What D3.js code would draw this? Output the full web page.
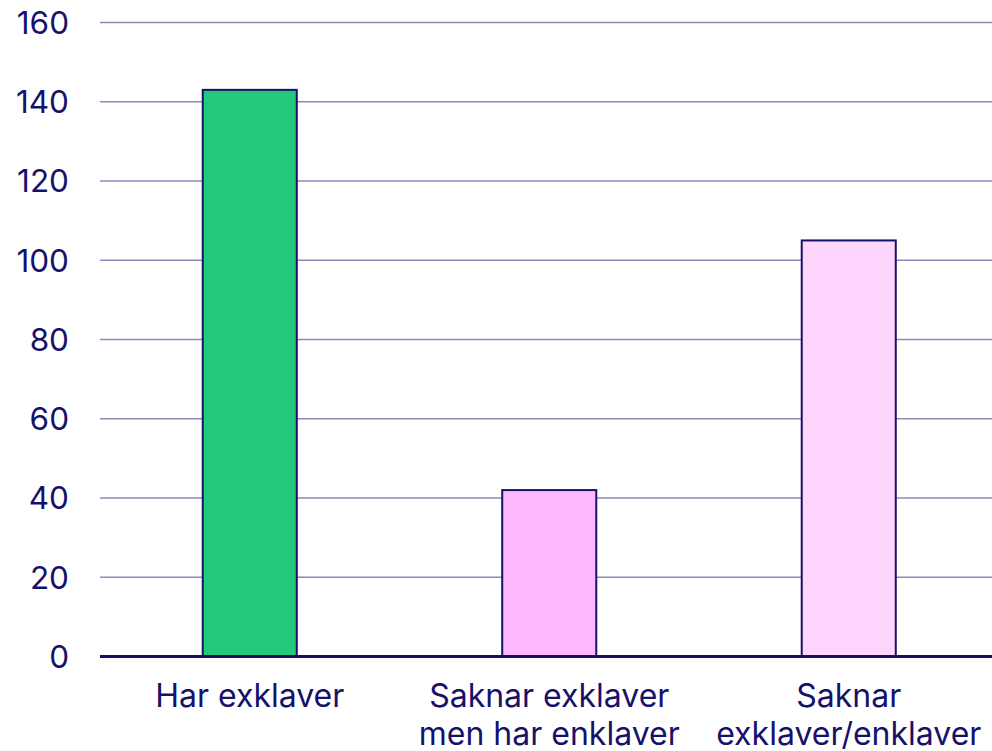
<!DOCTYPE html>
<html>
<head>
<meta charset="utf-8">
<script src="https://cdn.jsdelivr.net/npm/d3@7"></script>
<style>
  html, body { margin: 0; padding: 0; background: #fff; }
  svg text { font-family: Inter, "Noto Sans", sans-serif; fill: #16116b; }
</style>
</head>
<body>
<svg id="chart"></svg>
<script>
const categories = [
  ["Har exklaver"],
  ["Saknar exklaver", "men har enklaver"],
  ["Saknar", "exklaver/enklaver"]
];
const values = [143, 42, 105];
const barColors = ["#23c97a", "#fdb8fd", "#fdd5fd"];
const yTicks = [0, 20, 40, 60, 80, 100, 120, 140, 160];

const width = 992;
const height = 751;
const margin = { top: 22.5, right: 0, bottom: 94.5, left: 100 };

const svg = d3.select("#chart")
  .attr("width", width)
  .attr("height", height);

const x = d3.scaleBand()
  .domain(d3.range(values.length))
  .range([margin.left, margin.left + 898.5])
  .paddingInner(0.686)
  .paddingOuter(0.343);

const y = d3.scaleLinear()
  .domain([0, 160])
  .range([height - margin.bottom, margin.top]);

// gridlines
svg.append("g")
  .selectAll("line")
  .data(yTicks.filter(d => d > 0))
  .join("line")
  .attr("x1", margin.left)
  .attr("x2", width)
  .attr("y1", d => y(d))
  .attr("y2", d => y(d))
  .attr("stroke", "#8b89b9")
  .attr("stroke-width", 1.5);

// y tick labels
svg.append("g")
  .selectAll("text")
  .data(yTicks)
  .join("text")
  .attr("x", 69)
  .attr("y", d => y(d))
  .attr("dy", "0.36em")
  .attr("text-anchor", "end")
  .attr("font-size", "31.5px")
  .text(d => d);

// bars
svg.append("g")
  .selectAll("rect")
  .data(values)
  .join("rect")
  .attr("x", (d, i) => x(i))
  .attr("y", d => y(d))
  .attr("width", x.bandwidth())
  .attr("height", d => y(0) - y(d))
  .attr("fill", (d, i) => barColors[i])
  .attr("stroke", "#16116b")
  .attr("stroke-width", 2);

// baseline
svg.append("line")
  .attr("x1", margin.left)
  .attr("x2", width)
  .attr("y1", y(0))
  .attr("y2", y(0))
  .attr("stroke", "#16116b")
  .attr("stroke-width", 3);

// category labels
const lab = svg.append("g")
  .selectAll("text")
  .data(categories)
  .join("text")
  .attr("text-anchor", "middle")
  .attr("font-size", "32px")
  .attr("transform", (d, i) => `translate(${x(i) + x.bandwidth() / 2},707)`);

lab.selectAll("tspan")
  .data(d => d)
  .join("tspan")
  .attr("x", 0)
  .attr("y", (d, i) => i * 37.5)
  .text(d => d);
</script>
</body>
</html>
